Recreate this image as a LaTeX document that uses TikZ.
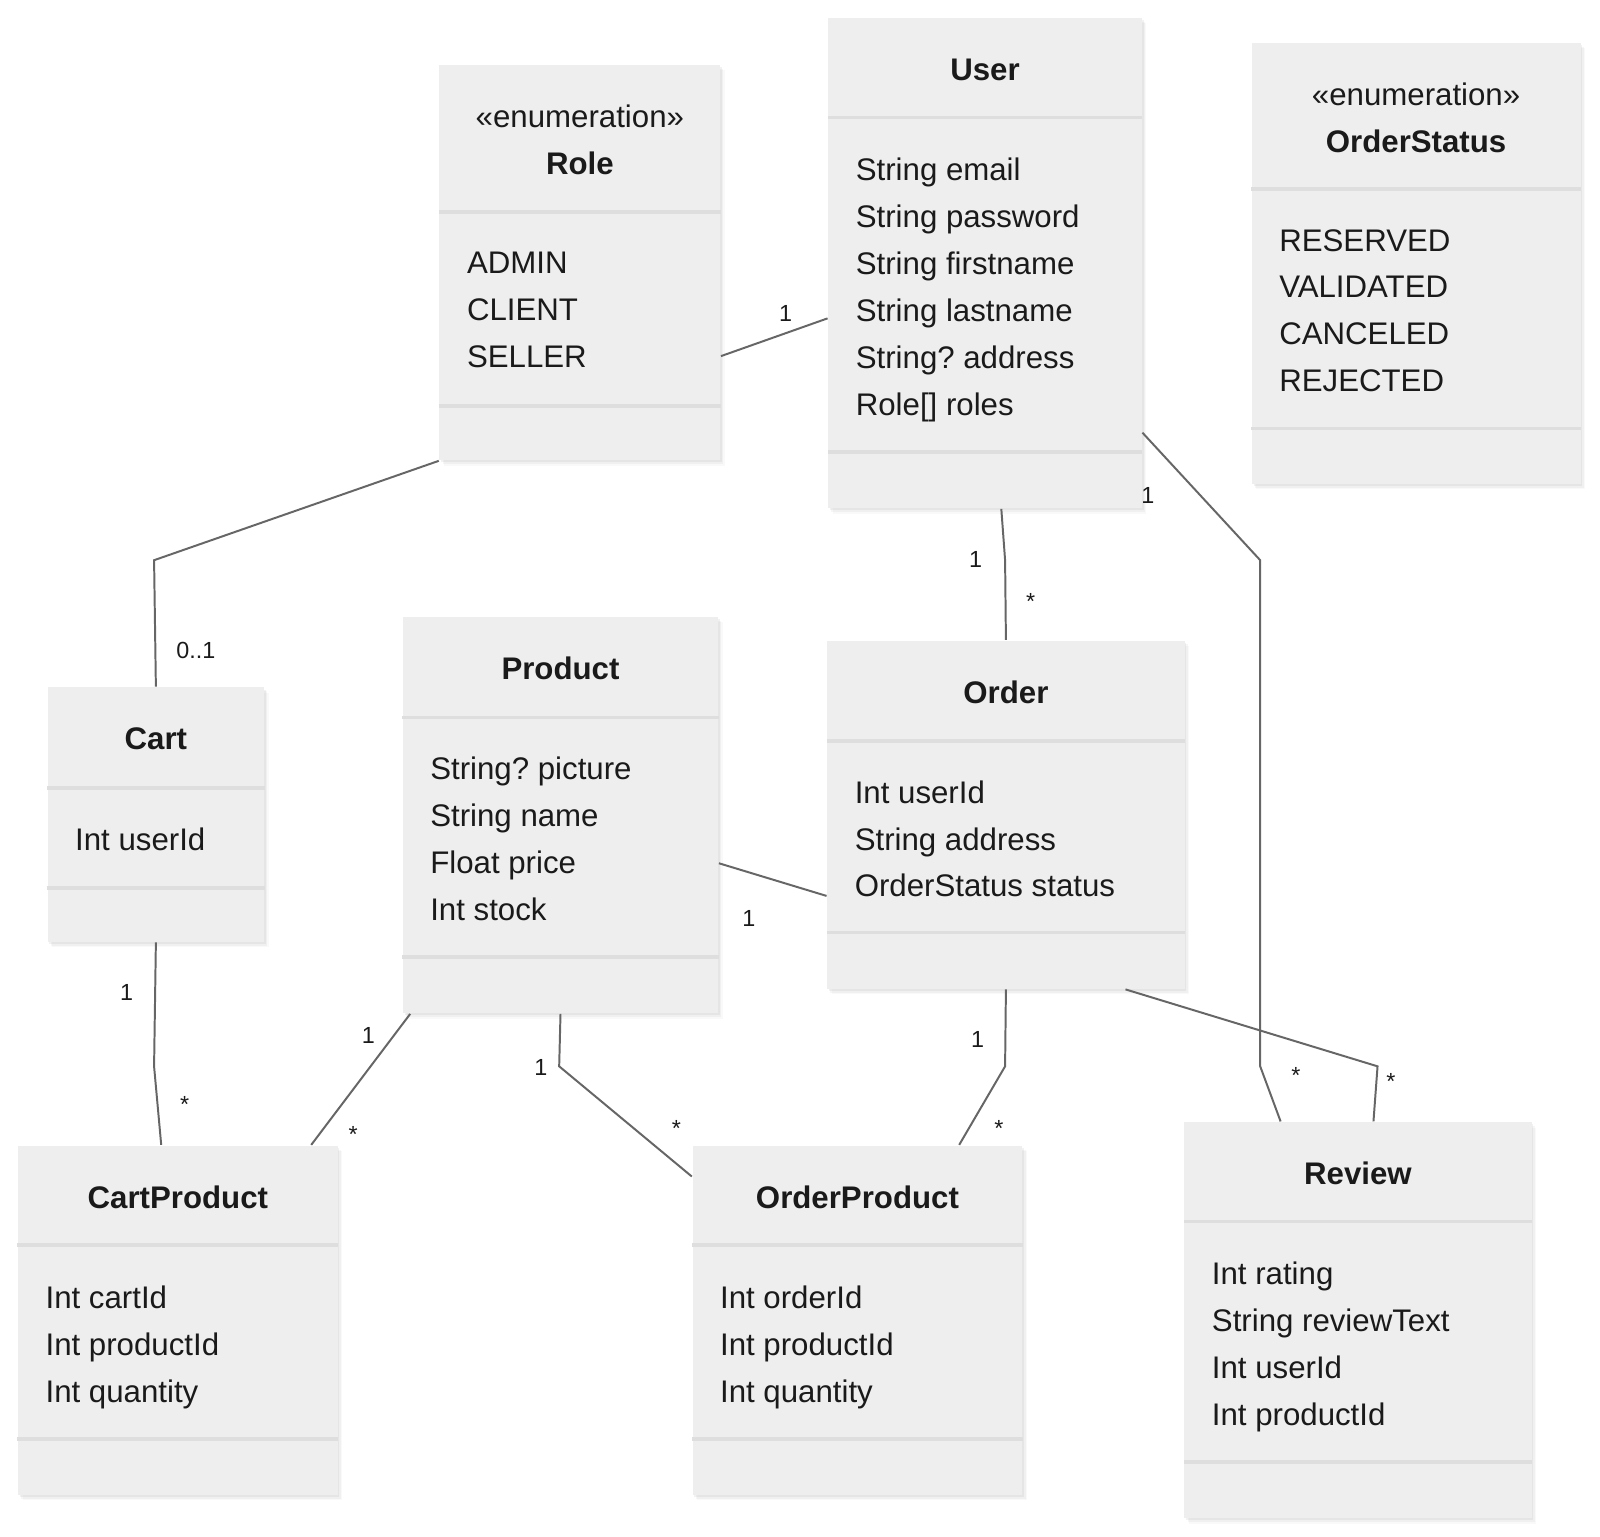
\documentclass[tikz,border=0pt]{standalone}
\usepackage{fontspec}
\setmainfont{Liberation Sans}
\usetikzlibrary{calc,shadows}
\frenchspacing

\definecolor{boxfill}{HTML}{EEEEEE}
\definecolor{sepgray}{HTML}{DEDEDE}
\definecolor{linegray}{HTML}{666666}
\definecolor{txt}{HTML}{1A1A1A}

\tikzset{
  classbox/.style={rectangle, fill=boxfill, anchor=north west, inner sep=0pt,
    drop shadow={shadow xshift=1.3pt, shadow yshift=-1.5pt, opacity=0.05},
    drop shadow={shadow xshift=0.9pt, shadow yshift=-1.1pt, opacity=0.07},
    drop shadow={shadow xshift=0.5pt, shadow yshift=-0.6pt, opacity=0.10}},
  sepline/.style={draw=sepgray, line width=1pt},
  title/.style={anchor=base, inner sep=0pt, text=txt, font=\fontsize{8.7}{10}\selectfont\bfseries},
  stereo/.style={anchor=base, inner sep=0pt, text=txt, font=\fontsize{8.7}{10}\selectfont},
  attr/.style={anchor=base west, inner sep=0pt, text=txt, font=\fontsize{8.7}{10}\selectfont},
  assoc/.style={draw=linegray, line width=0.55pt},
  mult/.style={inner sep=0pt, text=txt, font=\fontsize{6.5}{8}\selectfont},
}

\begin{document}
\begin{tikzpicture}[x=0.01cm, y=-0.01cm]
  \useasboundingbox (0,0) rectangle (1568,1506);

  % class boxes
  \node[classbox, minimum width=2.75cm, minimum height=3.87cm] (role) at (430,63) {};
  \node[classbox, minimum width=3.07cm, minimum height=4.80cm] (user) at (811,17) {};
  \node[classbox, minimum width=3.22cm, minimum height=4.32cm] (ostatus) at (1226,41) {};
  \node[classbox, minimum width=2.12cm, minimum height=2.49cm] (cart) at (46,673) {};
  \node[classbox, minimum width=3.09cm, minimum height=3.88cm] (product) at (394,604) {};
  \node[classbox, minimum width=3.50cm, minimum height=3.41cm] (order) at (810,627) {};
  \node[classbox, minimum width=3.13cm, minimum height=3.42cm] (cartproduct) at (17,1122) {};
  \node[classbox, minimum width=3.23cm, minimum height=3.42cm] (orderproduct) at (678,1122) {};
  \node[classbox, minimum width=3.40cm, minimum height=3.88cm] (review) at (1160,1099) {};

  % compartment lines
  \foreach \b/\s in {role/145, role/335, user/98, user/426, ostatus/144, ostatus/379,
      cart/99, cart/197, product/99, product/334, order/99, order/287,
      cartproduct/98, cartproduct/288, orderproduct/98, orderproduct/288,
      review/98, review/334}
    \draw[sepline] ($(\b.north west)+(0,\s)$) -- ($(\b.north east)+(0,\s)$);

  % headers
  \node[stereo] (role-st) at ($(role.north)+(0,62)$) {«enumeration»};
  \node[title] (role-t) at ($(role.north)+(0,108)$) {Role};
  \node[stereo] (ostatus-st) at ($(ostatus.north)+(0,62)$) {«enumeration»};
  \node[title] (ostatus-t) at ($(ostatus.north)+(0,108)$) {OrderStatus};
  \node[title] (user-t) at ($(user.north)+(0,62)$) {User};
  \node[title] (cart-t) at ($(cart.north)+(0,62)$) {Cart};
  \node[title] (product-t) at ($(product.north)+(0,62)$) {Product};
  \node[title] (order-t) at ($(order.north)+(0,62)$) {Order};
  \node[title] (cartproduct-t) at ($(cartproduct.north)+(0,62)$) {CartProduct};
  \node[title] (orderproduct-t) at ($(orderproduct.north)+(0,62)$) {OrderProduct};
  \node[title] (review-t) at ($(review.north)+(0,62)$) {Review};

  % attributes
  \foreach \a [count=\i from 0] in {ADMIN, CLIENT, SELLER}
    \node[attr] (role-a\i) at ($(role.north west)+(27,205+46*\i)$) {\a};
  \foreach \a [count=\i from 0] in {RESERVED, VALIDATED, CANCELED, REJECTED}
    \node[attr] (ostatus-a\i) at ($(ostatus.north west)+(27,205+46*\i)$) {\a};
  \foreach \a [count=\i from 0] in {String email, String password, String firstname,
      String lastname, String? address, {Role[] roles}}
    \node[attr] (user-a\i) at ($(user.north west)+(27,160+46*\i)$) {\a};
  \foreach \a [count=\i from 0] in {Int userId}
    \node[attr] (cart-a\i) at ($(cart.north west)+(27,160+46*\i)$) {\a};
  \foreach \a [count=\i from 0] in {String? picture, String name, Float price, Int stock}
    \node[attr] (product-a\i) at ($(product.north west)+(27,160+46*\i)$) {\a};
  \foreach \a [count=\i from 0] in {Int userId, String address, OrderStatus status}
    \node[attr] (order-a\i) at ($(order.north west)+(27,160+46*\i)$) {\a};
  \foreach \a [count=\i from 0] in {Int cartId, Int productId, Int quantity}
    \node[attr] (cartproduct-a\i) at ($(cartproduct.north west)+(27,160+46*\i)$) {\a};
  \foreach \a [count=\i from 0] in {Int orderId, Int productId, Int quantity}
    \node[attr] (orderproduct-a\i) at ($(orderproduct.north west)+(27,160+46*\i)$) {\a};
  \foreach \a [count=\i from 0] in {Int rating, String reviewText, Int userId, Int productId}
    \node[attr] (review-a\i) at ($(review.north west)+(27,160+46*\i)$) {\a};

  % associations
  \draw[assoc] ($(role.north east)+(0,286)$) -- ($(user.north west)+(0,295)$);
  \draw[assoc] (role.south west) -- (151,549) -- (cart.north);
  \draw[assoc] ($(user.south)+(16,0)$) -- (985,549) -- (order.north);
  \draw[assoc] ($(user.north east)+(0,407)$) -- (1235,549) -- (1235,1045)
    -- ($(review.north west)+(95,0)$);
  \draw[assoc] ($(order.south west)+(293,0)$) -- (1350,1045) -- ($(review.north west)+(186,0)$);
  \draw[assoc] ($(product.north east)+(0,242)$) -- ($(order.north west)+(0,251)$);
  \draw[assoc] (cart.south) -- (151,1045) -- ($(cartproduct.north west)+(141,0)$);
  \draw[assoc] ($(product.south west)+(8,0)$) -- ($(cartproduct.north west)+(288,0)$);
  \draw[assoc] (product.south) -- (548,1045) -- ($(orderproduct.north west)+(0,31)$);
  \draw[assoc] (order.south) -- (985,1045) -- ($(orderproduct.north west)+(262,0)$);

  % multiplicities
  \node[mult] (m-ru) at (770,307) {1};
  \node[mult] (m-rc) at (192,637) {0..1};
  \node[mult] (m-uo1) at (956,548) {1};
  \node[mult] (m-uo2) at (1010,589) {*};
  \node[mult] (m-ur1) at (1125,486) {1};
  \node[mult] (m-ur2) at (1270,1054) {*};
  \node[mult] (m-or) at (1363,1060) {*};
  \node[mult] (m-po) at (734,900) {1};
  \node[mult] (m-cc1) at (124,973) {1};
  \node[mult] (m-cc2) at (181,1082) {*};
  \node[mult] (m-pc1) at (361,1015) {1};
  \node[mult] (m-pc2) at (346,1112) {*};
  \node[mult] (m-pop1) at (530,1046) {1};
  \node[mult] (m-pop2) at (663,1106) {*};
  \node[mult] (m-oop1) at (958,1019) {1};
  \node[mult] (m-oop2) at (979,1106) {*};
\end{tikzpicture}
\end{document}
